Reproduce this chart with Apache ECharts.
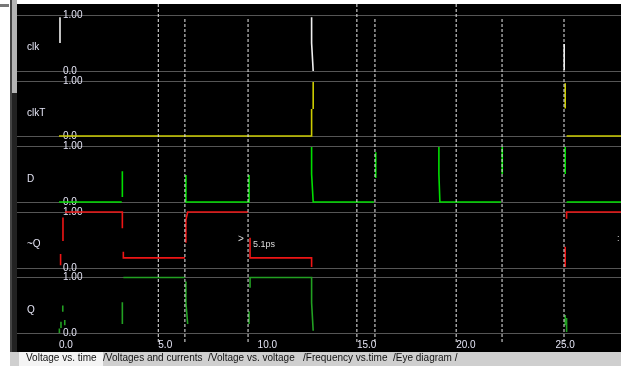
<!DOCTYPE html>
<html><head><meta charset="utf-8">
<script src="https://cdn.jsdelivr.net/npm/echarts@6/dist/echarts.min.js"></script>
<style>html,body{margin:0;padding:0;background:#fff}#c{width:621px;height:366px}</style>
</head><body><div id="c"></div>
<script>
// ---- data (time units, value 0..1 per pane) ----
const signalNames = ['clk', 'clkT', 'D', '~Q', 'Q'];
const xTickLabels = [0, 5, 10, 15, 20, 25];
const gridLineTimes = [5, 15, 20];
const cursorTimes = [6.34, 9.52, 15.91, 22.31, 25.43];
const tabNames = ['Voltage vs. time', '/Voltages and currents', '/Voltage vs. voltage', '/Frequency vs.time', '/Eye diagram /'];
const cursorNote = '5.1ps';

const clk = [[0.05,0.96],[0.05,0.5],null,[12.72,0.96],[12.72,0.5],[12.8,0.5],[12.8,0],null,[25.44,0.48],[25.44,0.02]];
const clkT = [[0,0],[12.72,0],[12.72,0.49],null,[12.8,0.49],[12.8,0.98],null,[25.49,0.96],[25.49,0.5],null,[25.56,0],[28.3,0]];
const D = [[0,0],[3.16,0],null,[3.19,0.09],[3.19,0.55],null,[6.39,0.48],[6.39,0],[9.57,0],[9.57,0.48],null,
  [12.72,0.98],[12.72,0.5],[12.8,0.5],[12.8,0],[15.86,0],null,[15.95,0.89],[15.95,0.43],null,
  [19.13,0.98],[19.13,0.5],[19.18,0.5],[19.18,0],[22.26,0],null,[22.32,0.98],[22.32,0.5],null,
  [25.49,0.98],[25.49,0.5],null,[25.56,0],[28.3,0]];
const notQ = [[0.2,0.9],[0.2,0.48],null,[0.08,0.25],[0.08,0.05],null,[0.3,1],[3.19,1],[3.19,0.71],null,
  [3.24,0.29],[3.24,0.18],[6.34,0.18],null,[6.39,0.45],[6.39,0.86],[6.48,0.86],[6.48,1],[9.52,1],null,
  [9.62,0.54],[9.62,0.18],[12.72,0.18],[12.72,0.02],null,[25.49,0.38],[25.49,0.02],null,[25.56,0.88],[25.56,1],[28.3,1]];
const Q = [[0.19,0.49],[0.19,0.38],null,[0.29,0.23],[0.29,0.14],null,[0.1,0.2],[0.1,0.09],null,[0.02,0.08],[0.02,0],null,
  [3.19,0.55],[3.19,0.16],null,[3.24,0.99],[6.34,0.99],null,[6.39,0.92],[6.39,0.54],[6.48,0.54],[6.48,0.16],null,
  [9.57,0.39],[9.57,0.16],null,[9.62,0.81],[9.62,0.99],[12.72,0.99],[12.72,0.54],[12.8,0.54],[12.8,0.04],null,
  [25.49,0.32],[25.49,0.14],null,[25.56,0.27],[25.56,0.02]];
const signals = [clk, clkT, D, notQ, Q];

// ---- layout / style ----
const colors = ['#f0f0f0', '#cccc00', '#00dd00', '#ee1515', '#22a022'];
const panes = [{top:15,h:56},{top:81,h:55},{top:146,h:56},{top:212,h:56},{top:277,h:56}];
const X_MIN = -2.115, X_MAX = 28.3;
const txt = '#e4e4f4';
const gap = d => d === null ? ['-','-'] : d;

const grid = panes.map(p => ({left:17, right:0, top:p.top, height:p.h}));
grid.push({left:17, right:0, top:4, height:338});

const xAxis = grid.map((g, i) => ({
  type:'value', gridIndex:i, min:X_MIN, max:X_MAX, show: i === 4,
  axisLine:{show:false}, axisTick:{show:false}, splitLine:{show:false},
  axisLabel:{customValues:xTickLabels, formatter:v => v.toFixed(1), align:'left', margin:7,
    color:txt, fontSize:10, fontFamily:'Liberation Sans, Arial'}
}));
const yAxis = grid.map((g, i) => i < 5 ? ({
  type:'value', gridIndex:i, min:0, max:1, interval:1,
  axisLine:{show:false}, axisTick:{show:false},
  splitLine:{show:true, lineStyle:{color:'#555', width:1}},
  axisLabel:{inside:true, margin:46, formatter:v => v === 1 ? '1.00' : '0.0',
    color:txt, fontSize:10, fontFamily:'Liberation Sans, Arial'}
}) : ({type:'value', gridIndex:i, min:0, max:1, show:false}));

const series = signals.map((s, i) => ({
  type:'line', name:signalNames[i], xAxisIndex:i, yAxisIndex:i, data:s.map(gap),
  showSymbol:false, clip:false, connectNulls:false, silent:true,
  lineStyle:{color:colors[i], width:1.6, join:'miter', cap:'butt'}
}));
const vlines = [];
gridLineTimes.forEach(t => vlines.push([t,0],[t,1],null));
cursorTimes.forEach(t => vlines.push([t,0],[t,0.9615],null));
series.push({type:'line', xAxisIndex:5, yAxisIndex:5, data:vlines.map(gap), showSymbol:false, silent:true,
  clip:false, lineStyle:{color:'#ececec', width:1, type:[3,2]}, z:3});

const nameY = [47, 113, 179, 244, 310];
const graphic = [
  {type:'rect', shape:{x:0,y:0,width:621,height:4}, style:{fill:'#fff'}},
  {type:'rect', shape:{x:0,y:0,width:10,height:366}, style:{fill:'#fff'}},
  {type:'rect', shape:{x:10,y:0,width:2,height:352}, style:{fill:'#444'}},
  {type:'rect', shape:{x:12,y:0,width:5,height:93}, style:{fill:'#b4b4b4'}},
  {type:'rect', shape:{x:12,y:93,width:5,height:259}, style:{fill:'#222'}},
  {type:'rect', shape:{x:0,y:4,width:9,height:3}, style:{fill:'#777'}},
  {type:'rect', shape:{x:10,y:352,width:611,height:14}, style:{fill:'#cfcfcf'}},
  {type:'rect', shape:{x:19,y:352,width:84,height:14}, style:{fill:'#f4f4f4'}}
];
const tabX = [26, 103, 208, 303, 393];
tabNames.forEach((n, i) => graphic.push({type:'text', x:tabX[i], y:353,
  style:{text:n, fill:'#111', font:'10px Liberation Sans, Arial'}}));
signalNames.forEach((n, i) => graphic.push({type:'text', x:27, y:nameY[i] - 5,
  style:{text:n, fill:txt, font:'10px Liberation Sans, Arial'}}));
graphic.push({type:'text', x:238, y:234, style:{text:'>', fill:'#ddd', font:'10px Liberation Sans, Arial'}});
graphic.push({type:'text', x:253, y:240, style:{text:cursorNote, fill:'#ddd', font:'9px Liberation Sans, Arial'}});
graphic.push({type:'text', x:617, y:234, style:{text:':', fill:'#ddd', font:'9px Liberation Sans, Arial'}});

const chart = echarts.init(document.getElementById('c'), null, {renderer:'canvas'});
chart.setOption({backgroundColor:'#000', animation:false, grid, xAxis, yAxis, series, graphic});
</script></body></html>
